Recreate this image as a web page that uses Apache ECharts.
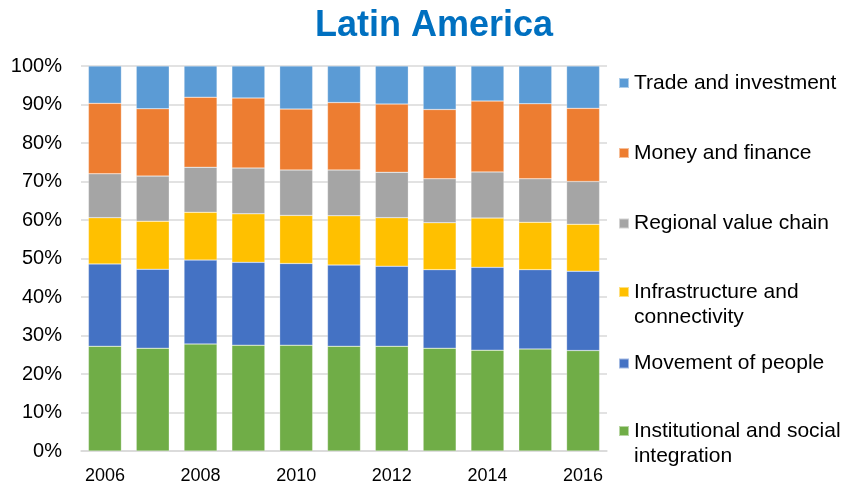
<!DOCTYPE html>
<html>
<head>
<meta charset="utf-8">
<script src="https://cdn.jsdelivr.net/npm/echarts@6/dist/echarts.min.js"></script>
<style>
html, body { margin: 0; padding: 0; background: #fff; }
#main { width: 844px; height: 485px; }
</style>
</head>
<body>
<div id="main"></div>
<script>
// 年份与各项占比（%）
var years = ['2006', '2007', '2008', '2009', '2010', '2011', '2012', '2013', '2014', '2015', '2016'];
var institutional = [27.2, 26.7, 27.8, 27.5, 27.5, 27.2, 27.2, 26.7, 26.2, 26.5, 26.1];
var movement = [21.4, 20.5, 21.8, 21.5, 21.2, 21.1, 20.8, 20.4, 21.5, 20.6, 20.6];
var infrastructure = [12.0, 12.5, 12.4, 12.6, 12.5, 12.8, 12.6, 12.2, 12.8, 12.3, 12.2];
var regional = [11.4, 11.7, 11.7, 11.9, 11.8, 11.9, 11.8, 11.4, 12.0, 11.3, 11.1];
var money = [18.3, 17.5, 18.2, 18.2, 15.8, 17.5, 17.7, 18.0, 18.4, 19.5, 19.0];
var trade = [9.7, 11.1, 8.1, 8.3, 11.2, 9.5, 9.9, 11.3, 9.1, 9.8, 11.0];

// 堆叠顺序：从下到上
var seriesList = [
    { name: 'Institutional and social integration', data: institutional, color: '#70AD47' },
    { name: 'Movement of people', data: movement, color: '#4472C4' },
    { name: 'Infrastructure and connectivity', data: infrastructure, color: '#FFC000' },
    { name: 'Regional value chain', data: regional, color: '#A5A5A5' },
    { name: 'Money and finance', data: money, color: '#ED7D31' },
    { name: 'Trade and investment', data: trade, color: '#5B9BD5' }
];

// 图例位置（每项单独一个legend）
var legendTops = {
    'Trade and investment': 70.5,
    'Money and finance': 140.5,
    'Regional value chain': 211,
    'Infrastructure and connectivity': 254.5,
    'Movement of people': 351,
    'Institutional and social integration': 393.5
};
// 两行的图例：前面加一个空行，让图标和第一行对齐
var twoLine = {
    'Infrastructure and connectivity': '\nInfrastructure and\nconnectivity',
    'Institutional and social integration': '\nInstitutional and social\nintegration'
};

var font = "'Liberation Sans', Arial, sans-serif";

var myChart = echarts.init(document.getElementById('main'));

var legends = seriesList.map(function (s) {
    return {
        orient: 'vertical',
        left: 618,
        top: legendTops[s.name],
        padding: 0,
        icon: 'rect',
        itemWidth: 10,
        itemHeight: 10,
        data: [s.name],
        formatter: function (name) {
            return twoLine[name] || name;
        },
        textStyle: {
            fontFamily: font,
            fontSize: 21,
            color: '#000',
            lineHeight: 25
        }
    };
});

var option = {
    animation: false,
    title: {
        text: 'Latin America',
        left: 315,
        top: 8,
        padding: 0,
        textStyle: {
            fontFamily: font,
            fontSize: 36,
            fontWeight: 'bold',
            color: '#0070C0'
        }
    },
    legend: legends,
    grid: {
        left: 81,
        right: 237,
        top: 66,
        bottom: 33
    },
    xAxis: {
        type: 'category',
        data: years,
        axisTick: { show: false },
        axisLine: { lineStyle: { color: '#d9d9d9', width: 1.5 } },
        axisLabel: {
            interval: 1,
            fontFamily: font,
            fontSize: 18,
            color: '#000',
            margin: 16
        }
    },
    yAxis: {
        type: 'value',
        min: 0,
        max: 100,
        interval: 10,
        axisLine: { show: false },
        axisTick: { show: false },
        axisLabel: {
            formatter: '{value}%',
            fontFamily: font,
            fontSize: 20,
            color: '#000',
            margin: 19
        },
        splitLine: { lineStyle: { color: '#d9d9d9', width: 1.5 } }
    },
    series: seriesList.map(function (s) {
        return {
            name: s.name,
            type: 'bar',
            stack: 'total',
            barWidth: '69%',
            data: s.data,
            itemStyle: {
                color: s.color,
                borderColor: 'rgba(255,255,255,0.5)',
                borderWidth: 0.5
            }
        };
    })
};

myChart.setOption(option);
</script>
</body>
</html>
